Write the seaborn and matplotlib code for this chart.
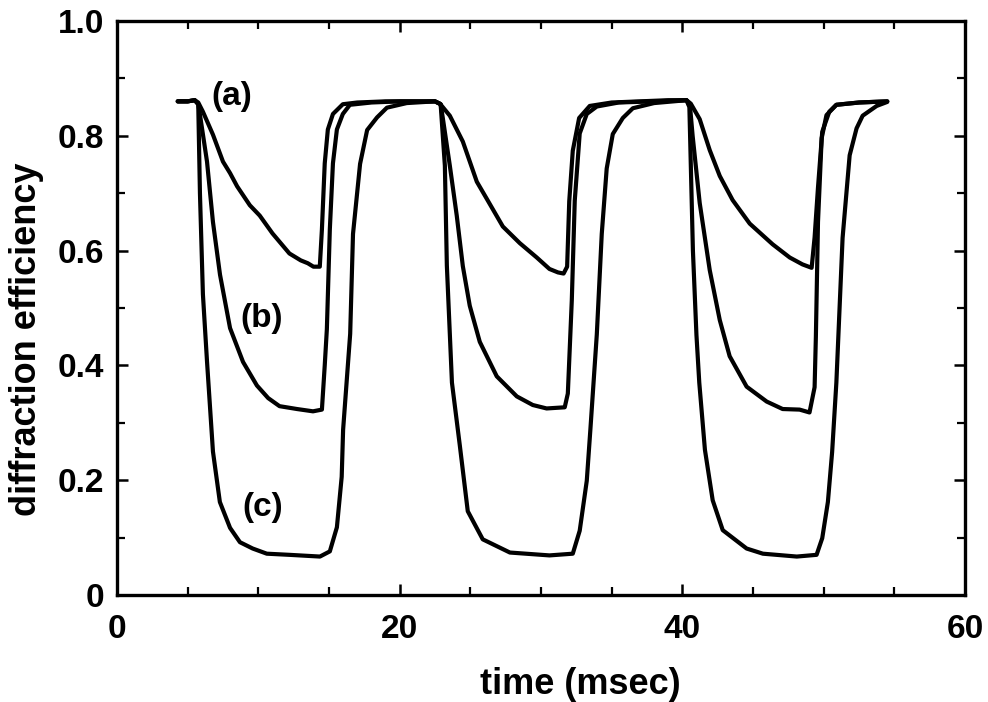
import matplotlib
matplotlib.use("Agg")
import matplotlib.pyplot as plt
from matplotlib.ticker import MultipleLocator, FuncFormatter
import numpy as np
import pandas as pd
import seaborn as sns

# Diffraction efficiency traces (time in msec, efficiency as fraction)
time_a = [4.3, 5.0, 5.5, 5.75, 6.08, 6.79, 7.5, 8.0, 8.5, 9.4, 10.1, 11.0, 12.2, 13.0,
          13.5, 13.9, 14.35, 14.5, 14.7, 14.92, 15.28, 15.98, 17.0, 19.0, 21.0, 22.5,
          22.85, 23.55, 24.47, 25.46, 26.17, 27.3, 28.5, 29.7, 30.6, 31.2, 31.6, 31.85,
          32.0, 32.25, 32.7, 33.45, 35.0, 37.0, 39.0, 40.3, 40.6, 41.23, 41.94, 42.65,
          43.56, 44.77, 46.39, 47.6, 48.5, 49.15, 49.36, 49.6, 49.9, 50.4, 50.9, 52.5, 54.5]
eff_a = [0.860, 0.860, 0.862, 0.858, 0.842, 0.802, 0.755, 0.735, 0.712, 0.679, 0.661,
         0.630, 0.595, 0.583, 0.578, 0.572, 0.572, 0.637, 0.752, 0.811, 0.838, 0.855,
         0.858, 0.860, 0.860, 0.860, 0.856, 0.835, 0.790, 0.720, 0.690, 0.642, 0.613,
         0.588, 0.568, 0.562, 0.560, 0.572, 0.686, 0.774, 0.831, 0.852, 0.858, 0.860,
         0.862, 0.862, 0.856, 0.829, 0.775, 0.730, 0.688, 0.647, 0.611, 0.588, 0.576,
         0.570, 0.623, 0.710, 0.807, 0.842, 0.854, 0.858, 0.860]

time_b = [4.3, 5.0, 5.5, 5.75, 5.87, 6.37, 6.79, 7.29, 8.0, 8.92, 9.9, 10.7, 11.5, 12.74,
          13.87, 14.5, 14.7, 14.85, 15.06, 15.28, 15.56, 15.98, 16.48, 18.0, 20.0, 22.5,
          22.9, 23.06, 23.55, 24.04, 24.47, 24.96, 25.67, 26.87, 28.29, 29.42, 30.4, 31.68,
          31.9, 32.18, 32.39, 32.74, 33.24, 33.95, 35.5, 38.0, 40.3, 40.55, 40.73, 41.23,
          41.94, 42.65, 43.35, 44.55, 45.97, 47.1, 48.3, 49.0, 49.36, 49.45, 49.6, 49.86,
          50.2, 50.9, 52.5, 54.5]
eff_b = [0.860, 0.860, 0.862, 0.855, 0.837, 0.755, 0.650, 0.558, 0.465, 0.406, 0.365,
         0.343, 0.329, 0.324, 0.320, 0.323, 0.400, 0.463, 0.637, 0.752, 0.811, 0.838,
         0.854, 0.858, 0.860, 0.860, 0.855, 0.830, 0.748, 0.661, 0.573, 0.504, 0.441,
         0.381, 0.346, 0.331, 0.325, 0.327, 0.351, 0.513, 0.687, 0.804, 0.838, 0.851,
         0.858, 0.860, 0.862, 0.850, 0.800, 0.683, 0.566, 0.479, 0.416, 0.363, 0.337,
         0.324, 0.323, 0.318, 0.362, 0.450, 0.650, 0.796, 0.836, 0.854, 0.858, 0.860]

time_c = [4.3, 5.0, 5.5, 5.75, 5.87, 6.08, 6.37, 6.79, 7.28, 8.0, 8.7, 9.6, 10.6, 12.2,
          14.36, 15.06, 15.56, 15.9, 16.0, 16.5, 16.7, 17.2, 17.7, 18.4, 19.1, 20.5, 22.5,
          22.9, 23.2, 23.34, 23.7, 24.26, 24.82, 25.88, 27.8, 30.6, 32.25, 32.74, 33.24,
          33.5, 33.95, 34.3, 34.65, 35.08, 35.79, 36.5, 38.0, 40.3, 40.5, 40.75, 41.0,
          41.2, 41.6, 42.15, 42.86, 44.55, 45.7, 48.1, 49.5, 49.9, 50.3, 50.6, 50.9,
          51.34, 51.84, 52.33, 52.76, 53.75, 54.5]
eff_c = [0.860, 0.860, 0.862, 0.855, 0.700, 0.524, 0.407, 0.250, 0.162, 0.117, 0.092,
         0.081, 0.072, 0.070, 0.067, 0.076, 0.118, 0.206, 0.288, 0.455, 0.629, 0.751,
         0.810, 0.832, 0.849, 0.857, 0.860, 0.855, 0.748, 0.574, 0.370, 0.260, 0.146,
         0.097, 0.074, 0.069, 0.072, 0.112, 0.199, 0.290, 0.454, 0.629, 0.743, 0.803,
         0.831, 0.848, 0.857, 0.862, 0.850, 0.600, 0.453, 0.370, 0.253, 0.165, 0.113,
         0.081, 0.072, 0.067, 0.070, 0.099, 0.162, 0.249, 0.370, 0.622, 0.766, 0.813,
         0.835, 0.852, 0.859]

curve_names = ["(a)", "(b)", "(c)"]
label_pos_t = [8.1, 10.2, 10.3]
label_pos_v = [0.868, 0.482, 0.152]

x_ticks = [0, 20, 40, 60]
y_ticks = [0, 0.2, 0.4, 0.6, 0.8, 1.0]

df = pd.concat([
    pd.DataFrame({"time": time_a, "eff": eff_a, "curve": curve_names[0]}),
    pd.DataFrame({"time": time_b, "eff": eff_b, "curve": curve_names[1]}),
    pd.DataFrame({"time": time_c, "eff": eff_c, "curve": curve_names[2]}),
], ignore_index=True)

sns.set_theme(style="ticks")
plt.rcParams["font.family"] = ["Liberation Sans", "DejaVu Sans"]
plt.rcParams["font.weight"] = "bold"

fig = plt.figure(figsize=(9.88, 7.02), dpi=100)
ax = fig.add_axes([0.1184, 0.1524, 0.8583, 0.8177])

sns.lineplot(data=df, x="time", y="eff", hue="curve", units="curve",
             estimator=None, sort=False, palette=["black"] * 3,
             linewidth=3.0, legend=False, ax=ax)

for name, tx, vy in zip(curve_names, label_pos_t, label_pos_v):
    ax.text(tx, vy, name, ha="center", va="center", fontsize=24,
            fontweight="bold", color="black")

ax.set_xlim(0, 60)
ax.set_ylim(0, 1.0)
ax.set_xticks(x_ticks)
ax.set_yticks(y_ticks)
ax.xaxis.set_minor_locator(MultipleLocator(5))
ax.yaxis.set_minor_locator(MultipleLocator(0.1))
ax.xaxis.set_major_formatter(FuncFormatter(lambda v, p: f"{v:.0f}"))
ax.yaxis.set_major_formatter(FuncFormatter(lambda v, p: "0" if abs(v) < 1e-9 else f"{v:.1f}"))

for side in ["left", "right", "top", "bottom"]:
    ax.spines[side].set_visible(True)
    ax.spines[side].set_linewidth(2.4)
    ax.spines[side].set_color("black")

ax.tick_params(which="both", direction="in", top=True, right=True,
               color="black", labelcolor="black")
ax.tick_params(which="major", length=8, width=1.8, labelsize=24)
ax.tick_params(which="minor", length=5.5, width=1.6)
ax.tick_params(axis="x", which="major", pad=14)
ax.tick_params(axis="y", which="major", pad=9)
for lbl in ax.get_xticklabels() + ax.get_yticklabels():
    lbl.set_fontweight("bold")

ax.set_xlabel("time (msec)", fontsize=26, fontweight="bold", color="black")
ax.set_ylabel("diffraction efficiency", fontsize=26, fontweight="bold", color="black")
ax.xaxis.set_label_coords(0.546, -0.125)
ax.xaxis.label.set_va("top")
ax.yaxis.set_label_coords(-0.086, 0.445)

fig.savefig("out.png", dpi=100, facecolor="white")
